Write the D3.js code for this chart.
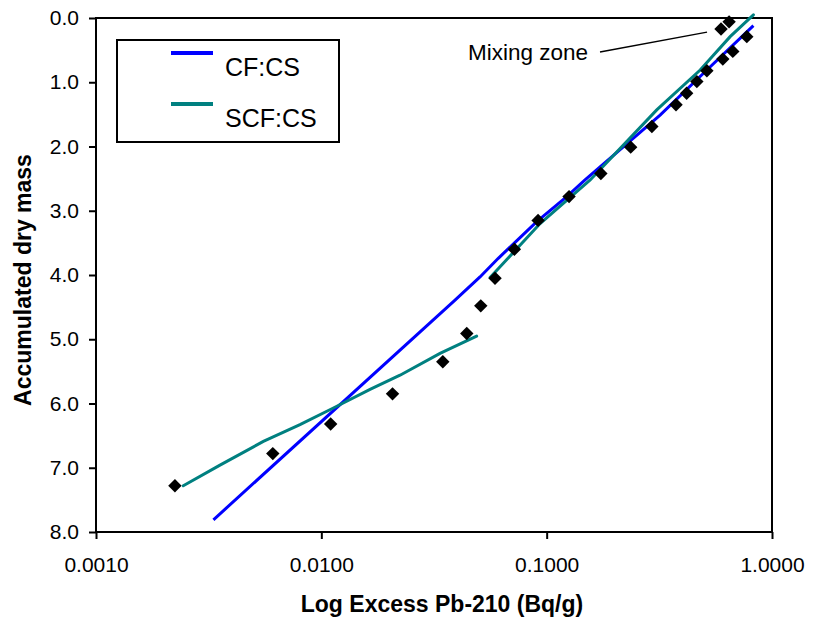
<!DOCTYPE html>
<html>
<head>
<meta charset="utf-8">
<script src="https://cdn.jsdelivr.net/npm/d3@7.9.0/dist/d3.min.js"></script>
<style>
  body { margin: 0; background: #fff; }
  svg { display: block; font-family: Arial, 'Liberation Sans', sans-serif; }
</style>
</head>
<body>
<svg id="chart" width="822" height="619"></svg>
<script>
// measured points: [excess Pb-210 (Bq/g), accumulated dry mass]
const measured = [
  [0.00224, 7.28], [0.00609, 6.78], [0.0110, 6.32], [0.0207, 5.85],
  [0.0346, 5.35], [0.0442, 4.91], [0.0510, 4.48], [0.0590, 4.05],
  [0.0719, 3.60], [0.0916, 3.15], [0.1257, 2.78], [0.174, 2.42],
  [0.236, 2.01], [0.293, 1.69], [0.375, 1.35], [0.418, 1.17],
  [0.464, 0.99], [0.514, 0.82], [0.605, 0.64], [0.670, 0.52],
  [0.773, 0.29], [0.594, 0.17], [0.645, 0.06]
];

// CF:CS model
const cfcs = [
  [0.00332, 7.81], [0.0392, 4.39], [0.0506, 4.03], [0.0610, 3.74],
  [0.0904, 3.17], [0.1228, 2.78], [0.148, 2.52], [0.3187, 1.51],
  [0.514, 0.81], [0.827, 0.12]
];

// SCF:CS model, two segments
const scfcsLower = [
  [0.00244, 7.28], [0.00355, 6.96], [0.00553, 6.59], [0.00804, 6.33],
  [0.01131, 6.07], [0.01645, 5.78], [0.02235, 5.56], [0.03363, 5.22],
  [0.0489, 4.95]
];
const scfcsUpper = [
  [0.0561, 4.04], [0.0935, 3.20], [0.156, 2.52], [0.308, 1.43],
  [0.480, 0.81], [0.652, 0.29], [0.827, -0.05]
];

const xTicks = [0.001, 0.01, 0.1, 1];
const yTicks = [0, 1, 2, 3, 4, 5, 6, 7, 8];
const legendItems = [
  { label: 'CF:CS', color: '#0000ff' },
  { label: 'SCF:CS', color: '#008080' }
];
const mixingAnchor = [0.515, 0.22];

const svg = d3.select('#chart');
const plotL = 96, plotR = 772, plotT = 18, plotB = 532;

const x = d3.scaleLog().domain([0.001, 1]).range([plotL, plotR]);
const y = d3.scaleLinear().domain([0, 8]).range([plotT, plotB]);

// frame
svg.append('rect')
  .attr('x', plotL).attr('y', plotT)
  .attr('width', plotR - plotL).attr('height', plotB - plotT)
  .attr('fill', 'none').attr('stroke', '#000').attr('stroke-width', 2);

// y axis
const yAxis = svg.append('g')
  .attr('transform', `translate(${plotL},0)`)
  .call(d3.axisLeft(y).tickValues(yTicks).tickFormat(d3.format('.1f')).tickSize(7).tickPadding(10));
yAxis.select('.domain').remove();
yAxis.selectAll('line').attr('stroke', '#000').attr('stroke-width', 2);
yAxis.selectAll('text').attr('font-size', 21).attr('fill', '#000')
  .attr('font-family', "Arial, 'Liberation Sans', sans-serif");

// x axis
const xAxis = svg.append('g')
  .attr('transform', `translate(0,${plotB})`)
  .call(d3.axisBottom(x).tickValues(xTicks).tickFormat(d3.format('.4f')).tickSize(7).tickPadding(18));
xAxis.select('.domain').remove();
xAxis.selectAll('line').attr('stroke', '#000').attr('stroke-width', 2);
xAxis.selectAll('text').attr('font-size', 21).attr('fill', '#000')
  .attr('font-family', "Arial, 'Liberation Sans', sans-serif");

// axis titles
svg.append('text')
  .attr('x', 442).attr('y', 612)
  .attr('text-anchor', 'middle')
  .attr('font-size', 23).attr('font-weight', 'bold')
  .text('Log Excess Pb-210 (Bq/g)');

svg.append('text')
  .attr('transform', `translate(31,280) rotate(-90)`)
  .attr('text-anchor', 'middle')
  .attr('font-size', 23).attr('font-weight', 'bold')
  .text('Accumulated dry mass');

// model lines
const line = d3.line().x(d => x(d[0])).y(d => y(d[1]));

svg.append('path').datum(cfcs)
  .attr('d', line).attr('fill', 'none')
  .attr('stroke', '#0000ff').attr('stroke-width', 3);

[scfcsLower, scfcsUpper].forEach(seg => {
  svg.append('path').datum(seg)
    .attr('d', line).attr('fill', 'none')
    .attr('stroke', '#008080').attr('stroke-width', 3)
    .attr('stroke-linecap', 'round');
});

// measured diamonds
const diamond = d3.symbol(d3.symbolSquare, 90);
svg.append('g').selectAll('path')
  .data(measured)
  .join('path')
  .attr('d', diamond)
  .attr('transform', d => `translate(${x(d[0])},${y(d[1])}) rotate(45)`)
  .attr('fill', '#000');

// mixing zone note
svg.append('line')
  .attr('x1', 600).attr('y1', 52)
  .attr('x2', x(mixingAnchor[0])).attr('y2', y(mixingAnchor[1]))
  .attr('stroke', '#000').attr('stroke-width', 1.5);
svg.append('text')
  .attr('x', 588).attr('y', 60)
  .attr('text-anchor', 'end')
  .attr('font-size', 22.5)
  .text('Mixing zone');

// legend
const legend = svg.append('g');
legend.append('rect')
  .attr('x', 117).attr('y', 40).attr('width', 222).attr('height', 102)
  .attr('fill', '#fff').attr('stroke', '#000').attr('stroke-width', 2);
legendItems.forEach((item, i) => {
  const ly = 53 + i * 51;
  legend.append('line')
    .attr('x1', 171).attr('x2', 213).attr('y1', ly).attr('y2', ly)
    .attr('stroke', item.color).attr('stroke-width', 4);
  legend.append('text')
    .attr('x', 225).attr('y', ly + 23)
    .attr('font-size', 25)
    .text(item.label);
});
</script>
</body>
</html>
